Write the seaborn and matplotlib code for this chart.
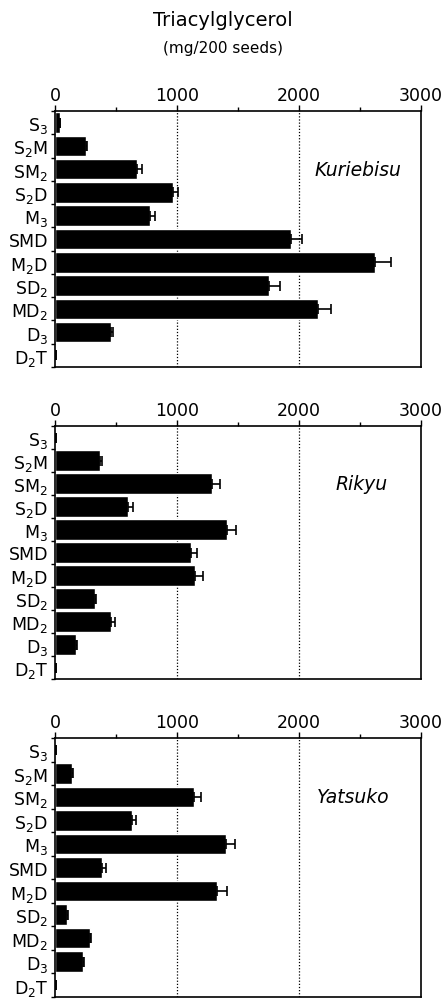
import numpy as np
import pandas as pd
import matplotlib
matplotlib.use("Agg")
import matplotlib.pyplot as plt
import seaborn as sns
from matplotlib.ticker import FixedLocator

categories = ["S$_3$", "S$_2$M", "SM$_2$", "S$_2$D", "M$_3$", "SMD",
              "M$_2$D", "SD$_2$", "MD$_2$", "D$_3$", "D$_2$T"]

kuriebisu = [40, 255, 670, 965, 782, 1933, 2620, 1758, 2155, 459, 5]
kuriebisu_err = [5, 5, 46, 46, 36, 93, 134, 87, 107, 14, 0]

rikyu = [5, 366, 1285, 602, 1411, 1116, 1146, 331, 462, 175, 5]
rikyu_err = [0, 19, 71, 38, 74, 52, 66, 5, 27, 5, 0]

yatsuko = [5, 143, 1140, 634, 1405, 386, 1328, 102, 287, 231, 5]
yatsuko_err = [0, 5, 58, 33, 72, 28, 80, 5, 5, 5, 0]

cultivars = ["Kuriebisu", "Rikyu", "Yatsuko"]
values = [kuriebisu, rikyu, yatsuko]
errors = [kuriebisu_err, rikyu_err, yatsuko_err]

sns.set_theme(style="white")
plt.rcParams['font.family'] = ['DejaVu Sans']
plt.rcParams['mathtext.default'] = 'regular'
plt.rcParams['text.color'] = 'black'
plt.rcParams['xtick.color'] = 'black'
plt.rcParams['ytick.color'] = 'black'
plt.rcParams['axes.labelcolor'] = 'black'

fig = plt.figure(figsize=(4.44, 10.03), dpi=100)
W = 1003.0
left = 55 / 444
width = (421 - 55) / 444
panels = [(112, 368), (427, 680), (739, 998)]
name_x = [2480, 2510, 2440]

fig.text(223 / 444, 1 - 21 / W, "Triacylglycerol", ha="center", va="center", fontsize=14)
fig.text(223 / 444, 1 - 49 / W, "(mg/200 seeds)", ha="center", va="center", fontsize=11)

for (top, bot), name, vals, errs, nx in zip(panels, cultivars, values, errors, name_x):
    ax = fig.add_axes([left, 1 - bot / W, width, (bot - top) / W])
    df = pd.DataFrame({"cat": categories, "value": vals})
    sns.barplot(data=df, x="value", y="cat", color="black", width=0.88,
                saturation=1, ax=ax, orient="h")
    ypos = np.arange(len(categories))
    ax.errorbar(vals, ypos, xerr=[np.zeros(len(errs)), errs], fmt="none",
                ecolor="black", elinewidth=1.2, capsize=3.5, capthick=1.2)
    ax.set_xlim(0, 3000)
    ax.set_ylim(len(categories) - 0.5, -0.5)
    ax.xaxis.tick_top()
    ax.xaxis.set_major_locator(FixedLocator([0, 1000, 2000, 3000]))
    ax.xaxis.set_minor_locator(FixedLocator([500, 1500, 2500]))
    ax.tick_params(axis="x", which="major", direction="out", length=4, width=1,
                   labelsize=12.5, pad=1, top=True, bottom=False, colors="black")
    ax.tick_params(axis="x", which="minor", direction="out", length=3, width=1,
                   top=True, bottom=False, colors="black")
    ax.set_xticklabels(["0", "1000", "2000", "3000"])
    ax.yaxis.set_major_locator(FixedLocator(ypos))
    ax.set_yticklabels(categories)
    ax.yaxis.set_minor_locator(FixedLocator(np.arange(-0.5, len(categories), 1.0)))
    ax.tick_params(axis="y", which="major", length=0, labelsize=12.5, pad=5, colors="black")
    ax.tick_params(axis="y", which="minor", direction="out", length=3, width=1,
                   left=True, colors="black")
    for xv in [1000, 2000]:
        ax.axvline(xv, color="black", linestyle=(0, (1, 1.5)), linewidth=0.9, zorder=0)
    for s in ax.spines.values():
        s.set_color("black")
        s.set_linewidth(1.2)
    ax.set_xlabel("")
    ax.set_ylabel("")
    ax.text(nx, 2, name, ha="center", va="center", fontsize=13.5, style="italic",
            color="black")

fig.savefig("out.png", dpi=100)
